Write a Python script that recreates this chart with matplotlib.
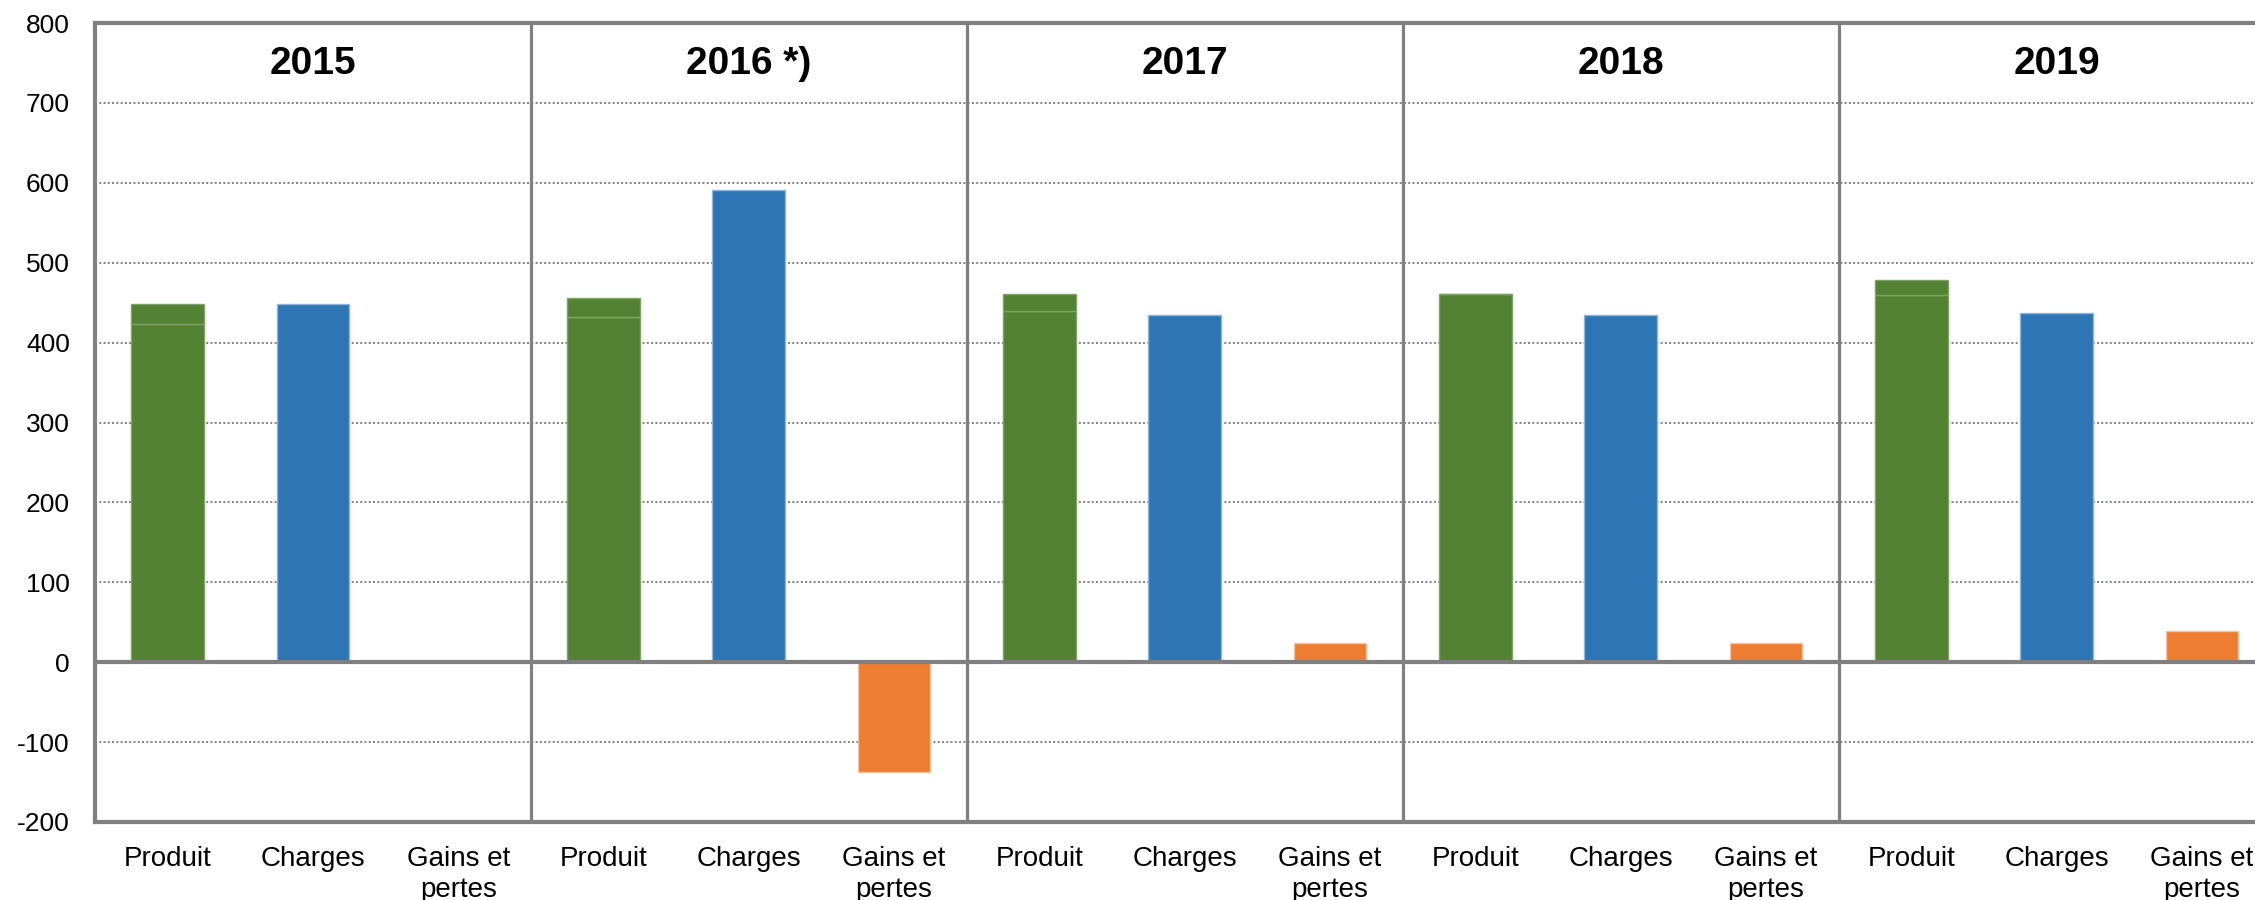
import matplotlib.pyplot as plt
import numpy as np

plt.rcParams['font.family'] = ['Liberation Sans', 'DejaVu Sans']
plt.rcParams['axes.unicode_minus'] = False

years = ['2015', '2016 *)', '2017', '2018', '2019']
categories = ['Produit', 'Charges', 'Gains et\npertes']
produit_base = [423, 432, 440, 461, 459]
produit_top = [25, 24, 21, 0, 19]
charges = [448, 591, 435, 435, 437]
gains = [0, -138, 24, 24, 39]

green = '#548235'
blue = '#2E75B6'
orange = '#ED7D31'
gray = '#808080'

fig = plt.figure(figsize=(22.55, 9), dpi=100)
ax = fig.add_axes([0.0421, 0.0867, 0.9579, 0.8877])

n = len(years)
group = np.arange(n) * 3
w = 0.5

ax.bar(group, produit_base, w, color=green, edgecolor='#7da366', linewidth=1, zorder=3)
ax.bar(group, produit_top, w, bottom=produit_base, color=green, edgecolor='#7da366', linewidth=1, zorder=3)
ax.bar(group + 1, charges, w, color=blue, edgecolor='#8cb5de', linewidth=1, zorder=3)
ax.bar(group + 2, gains, w, color=orange, edgecolor='#f6c3a0', linewidth=1, zorder=3)

# year headers
for g, yr in zip(group, years):
    ax.text(g + 1, 749, yr, ha='center', va='center', fontsize=28, fontweight='bold')

# group separators
for g in group[1:]:
    ax.axvline(g - 0.5, color=gray, linewidth=2.3, zorder=4)

ax.axhline(0, color=gray, linewidth=3, zorder=4)

ax.set_ylim(-200, 800)
ax.set_xlim(-0.5, -0.5 + (2255 - 95) / 145.3)
ax.set_yticks(np.arange(-200, 801, 100))
ax.set_xticks(np.arange(n * 3))
ax.set_xticklabels(categories * n, fontsize=20, linespacing=1.25, va='top')
ax.tick_params(axis='x', length=0, labelsize=20, pad=17)
ax.tick_params(axis='y', length=0, labelsize=19, pad=18)

ax.yaxis.grid(True, color=gray, linestyle=(0, (1, 1.2)), linewidth=1.4, zorder=0)
ax.set_axisbelow(True)

for side in ['left', 'top', 'bottom']:
    ax.spines[side].set_color(gray)
    ax.spines[side].set_linewidth(3)
ax.spines['right'].set_visible(False)

fig.savefig('out.png', dpi=100)
